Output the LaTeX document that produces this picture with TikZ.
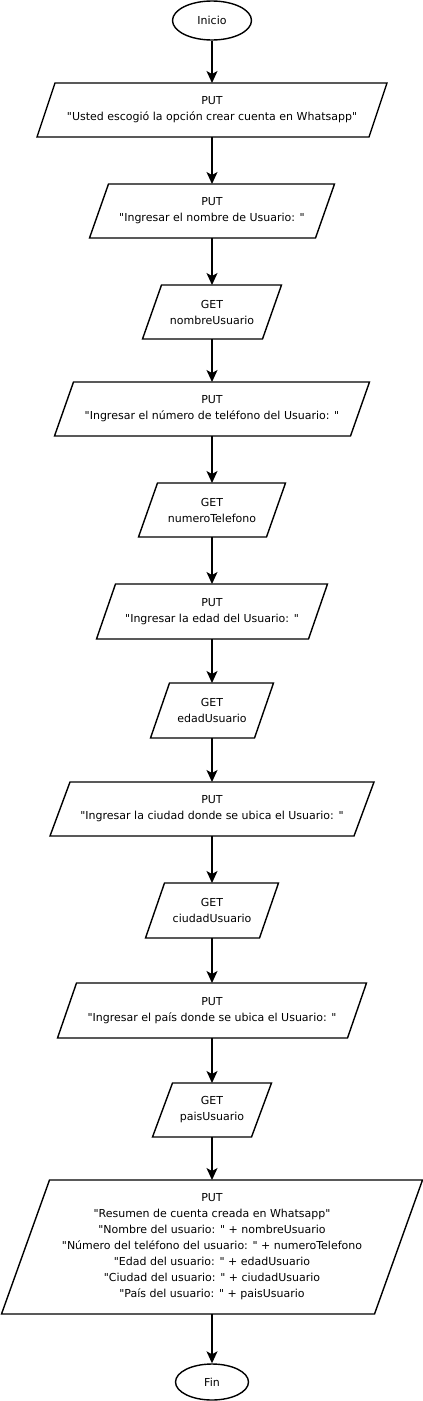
\documentclass[tikz,border=0pt]{standalone}
\usepackage{fontspec}
\setmainfont{DejaVu Sans}[Ligatures=TeXOff]
\usetikzlibrary{arrows.meta,shapes.geometric}
\begin{document}
\begin{tikzpicture}[x=1pt,y=-1pt,
  every node/.style={font=\fontsize{11}{16}\selectfont},
  term/.style={ellipse, draw, line width=1.4pt, inner sep=0pt},
  iobox/.style={rectangle, draw=none, inner sep=0pt, outer sep=0pt, align=center, minimum height=54pt},
  shapeline/.style={draw, line width=1.4pt, line join=miter},
  flow/.style={draw, line width=1.4pt, -{Stealth[length=12pt,width=11pt,inset=3pt]}}
]
\useasboundingbox (0,0) rectangle (423,1401);
\node[term, minimum width=79pt, minimum height=39pt] (start) at (212,20.5) {Inicio};
\node[iobox, minimum width=332pt] (p1) at (212,110) {PUT\\"Usted escogió la opción crear cuenta en Whatsapp"};
\node[iobox, minimum width=226pt] (p2) at (212,211) {PUT\\"Ingresar el nombre de Usuario: "};
\node[iobox, minimum width=120pt] (g1) at (212,312) {GET\\nombreUsuario};
\node[iobox, minimum width=296pt] (p3) at (212,409) {PUT\\"Ingresar el número de teléfono del Usuario: "};
\node[iobox, minimum width=128pt] (g2) at (212,510) {GET\\numeroTelefono};
\node[iobox, minimum width=212pt, minimum height=55pt] (p4) at (212,611.5) {PUT\\"Ingresar la edad del Usuario: "};
\node[iobox, minimum width=104pt, minimum height=55pt] (g3) at (212,710.5) {GET\\edadUsuario};
\node[iobox, minimum width=304pt] (p5) at (212,809) {PUT\\"Ingresar la ciudad donde se ubica el Usuario: "};
\node[iobox, minimum width=114pt, minimum height=55pt] (g4) at (212,910.5) {GET\\ciudadUsuario};
\node[iobox, minimum width=290pt, minimum height=55pt] (p6) at (212,1010.5) {PUT\\"Ingresar el país donde se ubica el Usuario: "};
\node[iobox, minimum width=99pt] (g5) at (212,1110) {GET\\paisUsuario};
\node[iobox, minimum width=373pt, minimum height=134pt] (p7) at (212,1247) {PUT\\"Resumen de cuenta creada en Whatsapp"\\"Nombre del usuario: " + nombreUsuario\\"Número del teléfono del usuario: " + numeroTelefono\\"Edad del usuario: " + edadUsuario\\"Ciudad del usuario: " + ciudadUsuario\\"País del usuario: " + paisUsuario};
\node[term, minimum width=73pt, minimum height=36pt] (fin) at (212,1382) {Fin};
\foreach \n/\s in {p1/9,p2/9.5,g1/9.5,p3/9.5,g2/9.5,p4/9.5,g3/9.5,p5/10,g4/9.5,p6/9.5,g5/10,p7/24}
  \draw[shapeline] ([xshift=\s pt]\n.north west) -- ([xshift=\s pt]\n.north east) -- ([xshift=-\s pt]\n.south east) -- ([xshift=-\s pt]\n.south west) -- cycle;
\foreach \a/\b in {start/p1,p1/p2,p2/g1,g1/p3,p3/g2,g2/p4,p4/g3,g3/p5,p5/g4,g4/p6,p6/g5,g5/p7,p7/fin}
  \draw[flow] (\a) -- (\b);
\end{tikzpicture}
\end{document}
